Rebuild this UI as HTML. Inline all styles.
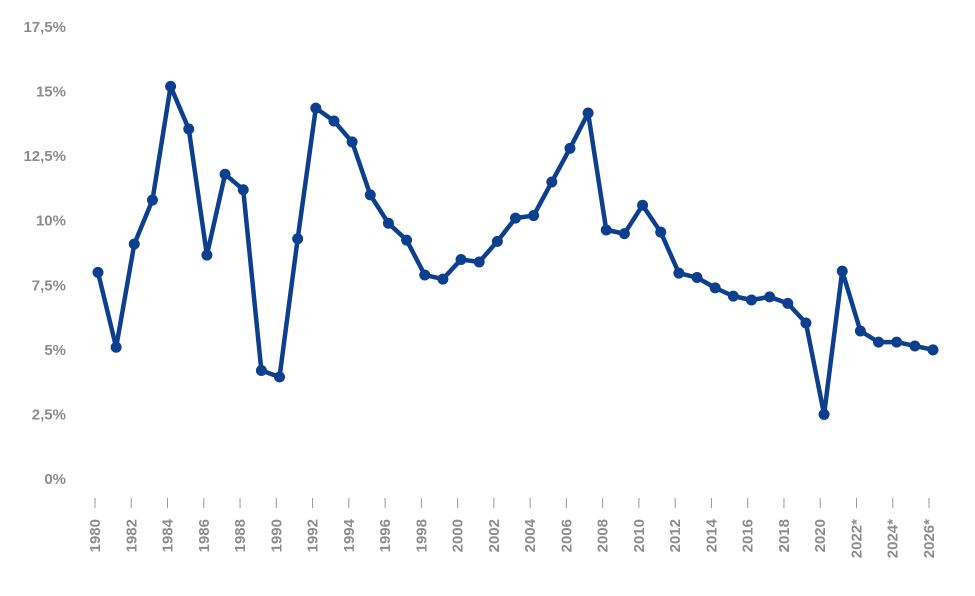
<!DOCTYPE html>
<html><head><meta charset="utf-8"><style>
body{margin:0;background:#fff;}
svg text{font-family:"Liberation Sans Narrow","Liberation Sans",sans-serif;font-weight:bold;fill:#8c8c8c;font-size:15px;}
</style></head><body>
<svg id="chart" width="975" height="591" xmlns="http://www.w3.org/2000/svg"></svg>
<script>
const years=[1980,1981,1982,1983,1984,1985,1986,1987,1988,1989,1990,1991,1992,1993,1994,1995,1996,1997,1998,1999,2000,2001,2002,2003,2004,2005,2006,2007,2008,2009,2010,2011,2012,2013,2014,2015,2016,2017,2018,2019,2020,2021,2022,2023,2024,2025,2026];
const values=[8.0,5.1,9.1,10.8,15.2,13.55,8.67,11.8,11.2,4.2,3.95,9.3,14.36,13.86,13.05,11.0,9.9,9.25,7.9,7.74,8.5,8.4,9.2,10.1,10.2,11.5,12.8,14.17,9.64,9.5,10.6,9.56,7.97,7.8,7.4,7.08,6.93,7.05,6.8,6.04,2.5,8.05,5.73,5.3,5.3,5.15,5.0];
const yTicks=[0,2.5,5,7.5,10,12.5,15,17.5];
const yTickLabels=["0%","2,5%","5%","7,5%","10%","12,5%","15%","17,5%"];
const xTickYears=[1980,1982,1984,1986,1988,1990,1992,1994,1996,1998,2000,2002,2004,2006,2008,2010,2012,2014,2016,2018,2020,2022,2024,2026];
const xTickLabels=["1980","1982","1984","1986","1988","1990","1992","1994","1996","1998","2000","2002","2004","2006","2008","2010","2012","2014","2016","2018","2020","2022*","2024*","2026*"];
const NS="http://www.w3.org/2000/svg";
const svg=document.getElementById('chart');
const x=v=>98+(v-1980)*(835/46);
const xt=v=>95+(v-1980)*(834/46);
const y=v=>479-v*(452/17.5);
function mk(t,a){const e=document.createElementNS(NS,t);for(const k in a)e.setAttribute(k,a[k]);svg.appendChild(e);return e;}
yTicks.forEach((t,i)=>{
  const e=mk('text',{x:66,y:y(t)+5,'text-anchor':'end'});
  e.textContent=yTickLabels[i];
  
  
});
xTickYears.forEach((yr,i)=>{
  const l=mk('line',{x1:xt(yr),x2:xt(yr),y1:498,y2:508,stroke:'#999','stroke-width':1});
  
  
  const e=mk('text',{transform:`translate(${xt(yr)+5},519) rotate(-90)`,'text-anchor':'end'});
  e.textContent=xTickLabels[i];
  
  
});
const pts=years.map((yr,i)=>x(yr)+','+y(values[i])).join(' ');
const pl=mk('polyline',{points:pts,fill:'none',stroke:'#0d3f8f','stroke-width':4.5,'stroke-linejoin':'round'});


years.forEach((yr,i)=>{
  const c=mk('circle',{cx:x(yr),cy:y(values[i]),r:5.5,fill:'#0d3f8f'});
  
  
});
</script>
</body></html>
